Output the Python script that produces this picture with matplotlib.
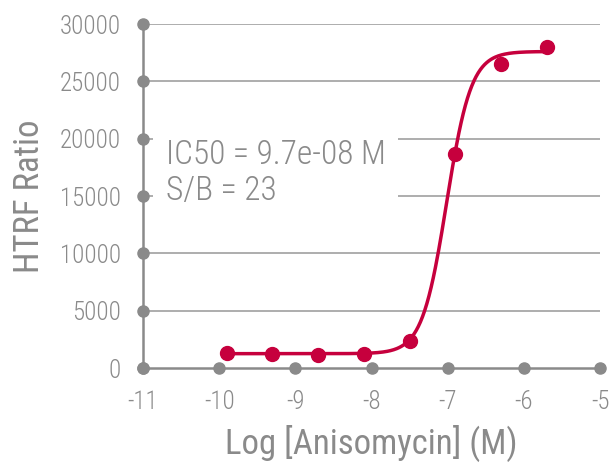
import numpy as np
import matplotlib
matplotlib.use('Agg')
import matplotlib.pyplot as plt

# data
log_conc = [-9.9, -9.3, -8.7, -8.1, -7.5, -6.9, -6.3, -5.7]
htrf = [1300, 1220, 1150, 1220, 2350, 18650, 26500, 28000]
xticks = [-11, -10, -9, -8, -7, -6, -5]
yticks = [0, 5000, 10000, 15000, 20000, 25000, 30000]

# 4PL fit parameters
bottom, top, log_ic50, hill = 1250, 27600, np.log10(9.7e-8), 2.7

plt.rcParams['font.family'] = ['Roboto Condensed', 'DejaVu Sans']
plt.rcParams['font.weight'] = 'light'

grey = '#8a8a8a'
red = '#c6003d'

fig = plt.figure(figsize=(6.12, 4.67), dpi=100)
ax = fig.add_axes([143/612, 1-368/467, 457/612, 344/467])

for y in yticks[1:]:
    ax.axhline(y, color='#a0a0a0', lw=1.2, zorder=1)

xs = np.linspace(log_conc[0], log_conc[-1], 300)
fit = bottom + (top - bottom) / (1 + 10 ** (hill * (log_ic50 - xs)))
ax.plot(xs, fit, color=red, lw=2.5, zorder=3)
ax.plot(log_conc, htrf, 'o', color=red, ms=10, zorder=4)

# axes with dots at the ticks
ax.plot([-11, -5], [0, 0], color=grey, lw=1.8, zorder=2, clip_on=False)
ax.plot([-11, -11], [0, 30000], color=grey, lw=1.8, zorder=2, clip_on=False)
ax.plot(xticks, [0]*len(xticks), 'o', color=grey, ms=8, zorder=2, clip_on=False)
ax.plot([-11]*len(yticks), yticks, 'o', color=grey, ms=8, zorder=2, clip_on=False)

ax.set_xlim(-11, -5)
ax.set_ylim(0, 30000)
for s in ax.spines.values():
    s.set_visible(False)
ax.set_xticks(xticks)
ax.set_yticks(yticks)
ax.set_xticklabels([str(t) for t in xticks])
ax.set_yticklabels([str(t) for t in yticks])
ax.tick_params(length=0, colors=grey, labelsize=18, pad=16)
ax.tick_params(axis='y', pad=16)

ax.set_xlabel('Log [Anisomycin] (M)', fontsize=25, color=grey, labelpad=8)
ax.set_ylabel('HTRF Ratio', fontsize=25, color=grey, labelpad=10)

ax.text(-10.7, 17000, 'IC50 = 9.7e-08 M\nS/B = 23', fontsize=24, color=grey,
        va='center', ha='left', linespacing=1.15, zorder=5,
        bbox=dict(facecolor='white', edgecolor='none', pad=9))

fig.savefig('out.png', dpi=100)
